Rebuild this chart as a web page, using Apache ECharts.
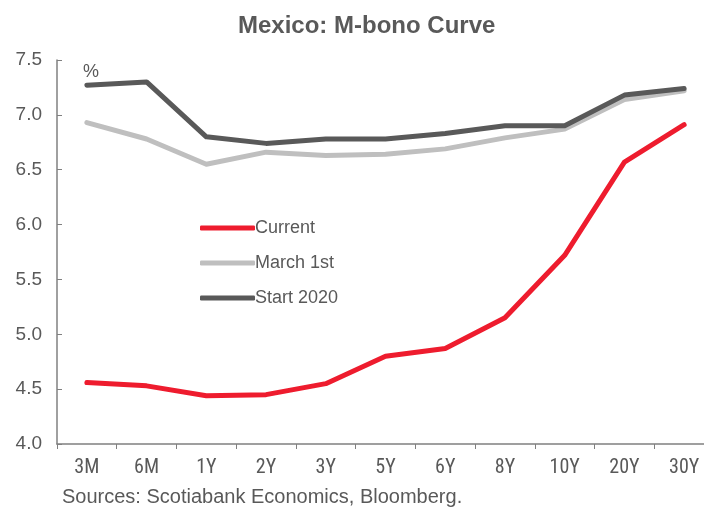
<!DOCTYPE html>
<html><head><meta charset="utf-8">
<script src="https://cdn.jsdelivr.net/npm/echarts@6/dist/echarts.min.js"></script>
<style>html,body{margin:0;padding:0;background:#fff}#c{width:704px;height:508px}</style>
</head><body><div id="c"></div>
<script>
const categories = ['3M','6M','1Y','2Y','3Y','5Y','6Y','8Y','10Y','20Y','30Y'];
const current = [4.56,4.53,4.44,4.45,4.55,4.80,4.87,5.15,5.72,6.57,6.91];
const march1st = [6.93,6.78,6.55,6.66,6.63,6.64,6.69,6.79,6.87,7.14,7.22];
const start2020 = [7.27,7.30,6.80,6.74,6.78,6.78,6.83,6.90,6.90,7.18,7.24];
const yTicks = [4.0,4.5,5.0,5.5,6.0,6.5,7.0,7.5];

const font = 'Liberation Sans, Arial, sans-serif';
const narrow = '"Liberation Sans Narrow", "Arial Narrow", "Roboto Condensed", "Liberation Sans", sans-serif';
const chart = echarts.init(document.getElementById('c'));
const mk = (name, data, color) => ({
  name, type:'line', data, symbol:'none', smooth:false,
  lineStyle:{color, width:5, cap:'round', join:'round'}, itemStyle:{color}
});
chart.setOption({
  animation:false,
  title:{text:'Mexico: M-bono Curve', left:233, top:9,
    textStyle:{fontFamily:font, fontSize:24, fontWeight:'bold', color:'#595959'}},
  grid:{left:57, right:-10, top:60, bottom:64, containLabel:false, outerBoundsMode:'none'},
  legend:{orient:'vertical', left:195, top:214, itemWidth:55, itemHeight:5, itemGap:17,
    icon:'roundRect',
    textStyle:{fontFamily:font, fontSize:18, color:'#595959', padding:[0,0,0,-5]},
    data:['Current','March 1st','Start 2020']},
  xAxis:{type:'category', data:categories, boundaryGap:true,
    axisLine:{lineStyle:{color:'#808080', width:1.5}},
    axisTick:{show:true, inside:false, length:5, lineStyle:{color:'#808080'}},
    axisLabel:{fontFamily:narrow, fontSize:20, color:'#595959', margin:14}},
  yAxis:{type:'value', min:yTicks[0], max:yTicks[yTicks.length-1], interval:0.5,
    axisLine:{show:true, lineStyle:{color:'#808080', width:1.5}},
    axisTick:{show:true, inside:true, length:5, lineStyle:{color:'#808080'}},
    splitLine:{show:false},
    axisLabel:{fontFamily:font, fontSize:19, color:'#595959', margin:15,
      formatter:v=>v.toFixed(1)}},
  graphic:[
    {type:'text', left:83, top:63, style:{text:'%', font:'18px '+font, fill:'#595959'}},
    {type:'text', left:62, top:487, style:{text:'Sources: Scotiabank Economics, Bloomberg.', font:'20px '+font, fill:'#595959'}}
  ],
  series:[
    mk('Current', current, '#ee1c2e'),
    mk('March 1st', march1st, '#bfbfbf'),
    mk('Start 2020', start2020, '#595959')
  ]
});
</script></body></html>
